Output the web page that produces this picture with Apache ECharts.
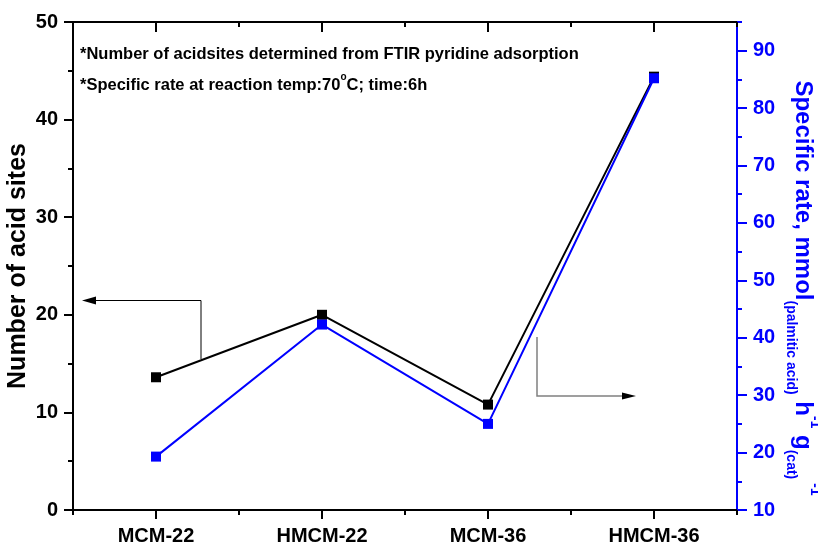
<!DOCTYPE html>
<html>
<head>
<meta charset="utf-8">
<script src="https://cdn.jsdelivr.net/npm/echarts@6/dist/echarts.min.js"></script>
<style>
  html, body { margin: 0; padding: 0; background: #fff; }
  #chart { width: 818px; height: 546px; }
</style>
</head>
<body>
<div id="chart"></div>
<script>
// Catalyst samples on the x axis
const categories = ['MCM-22', 'HMCM-22', 'MCM-36', 'HMCM-36'];
// Number of acid sites (left axis)
const acidSites = [13.6, 20.0, 10.8, 44.4];
// Specific rate, mmol(palmitic acid) h^-1 g(cat)^-1 (right axis)
const specificRate = [19.3, 42.3, 25.0, 85.2];
// Axis tick values
const leftTicks = [0, 10, 20, 30, 40, 50];
const rightMajorTicks = [10, 20, 30, 40, 50, 60, 70, 80, 90];
const rightMinorTicks = [15, 25, 35, 45, 55, 65, 75, 85, 95];

const FONT = "'Liberation Sans', Arial, Helvetica, sans-serif";
const BLUE = '#0000ff';

const chart = echarts.init(document.getElementById('chart'), null, { renderer: 'canvas' });

const grid = { left: 73, right: 81, top: 22, bottom: 36, containLabel: false, outerBoundsMode: 'none' };

function catAxis(pos, opts) {
  return Object.assign({
    type: 'category',
    data: categories,
    position: pos,
    boundaryGap: true,
    axisLine: { show: false },
    axisLabel: { show: false },
    splitLine: { show: false },
    axisTick: { show: false }
  }, opts);
}

const option = {
  backgroundColor: '#ffffff',
  animation: false,
  grid: grid,
  xAxis: [
    catAxis('bottom', {
      axisLine: { show: true, lineStyle: { color: '#000', width: 2 } },
      axisTick: { show: true, alignWithLabel: false, length: 5, lineStyle: { color: '#000', width: 2 } },
      axisLabel: { show: true, margin: 16, color: '#000', fontWeight: 'bold', fontSize: 20, fontFamily: FONT }
    }),
    catAxis('bottom', {
      axisTick: { show: true, alignWithLabel: true, length: 9, lineStyle: { color: '#000', width: 2 } }
    }),
    catAxis('top', {
      axisLine: { show: true, lineStyle: { color: '#000', width: 2 } },
      axisTick: { show: true, inside: true, alignWithLabel: false, length: 5, lineStyle: { color: '#000', width: 2 } }
    }),
    catAxis('top', {
      axisTick: { show: true, inside: true, alignWithLabel: true, length: 10, lineStyle: { color: '#000', width: 2 } }
    })
  ],
  yAxis: [
    {
      type: 'value',
      position: 'left',
      min: 0, max: 50, interval: 10,
      name: 'Number of acid sites',
      nameLocation: 'middle',
      nameGap: 42,
      nameMoveOverlap: false,
      nameTextStyle: { color: '#000', fontWeight: 'bold', fontSize: 25, fontFamily: FONT },
      axisLine: { show: true, lineStyle: { color: '#000', width: 2 } },
      axisTick: { show: true, length: 9, lineStyle: { color: '#000', width: 2 } },
      minorTick: { show: true, splitNumber: 2, length: 5, lineStyle: { color: '#000', width: 2 } },
      axisLabel: {
        margin: 15, color: '#000', fontWeight: 'bold', fontSize: 20, fontFamily: FONT,
        customValues: leftTicks
      },
      splitLine: { show: false },
      minorSplitLine: { show: false }
    },
    {
      type: 'value',
      position: 'right',
      min: 10, max: 95,
      axisLine: { show: true, lineStyle: { color: BLUE, width: 2 } },
      axisTick: { show: true, length: 10, lineStyle: { color: BLUE, width: 2 }, customValues: rightMajorTicks },
      axisLabel: {
        margin: 16, color: BLUE, fontWeight: 'bold', fontSize: 20, fontFamily: FONT,
        customValues: rightMajorTicks
      },
      splitLine: { show: false }
    },
    {
      type: 'value',
      position: 'right',
      min: 10, max: 95,
      axisLine: { show: false },
      axisTick: { show: true, length: 5, lineStyle: { color: BLUE, width: 2 }, customValues: rightMinorTicks },
      axisLabel: { show: false },
      splitLine: { show: false }
    }
  ],
  series: [
    {
      name: 'Number of acid sites',
      type: 'line',
      xAxisIndex: 0,
      yAxisIndex: 0,
      data: acidSites,
      symbol: 'rect',
      symbolSize: 10,
      itemStyle: { color: '#000' },
      lineStyle: { color: '#000', width: 2 },
      z: 3
    },
    {
      name: 'Specific rate',
      type: 'line',
      xAxisIndex: 0,
      yAxisIndex: 1,
      data: specificRate,
      symbol: 'rect',
      symbolSize: 10,
      itemStyle: { color: BLUE },
      lineStyle: { color: BLUE, width: 2 },
      z: 4
    }
  ],
  graphic: [
    // notes inside the plot
    {
      type: 'text', left: 80, top: 46, silent: true,
      style: { text: '*Number of acidsites determined from FTIR pyridine adsorption', fill: '#000', font: 'bold 16.5px ' + FONT }
    },
    {
      type: 'text', left: 80, top: 72, silent: true,
      style: {
        text: '{n|*Specific rate at reaction temp:70}{d|o}{n|C; time:6h}',
        rich: {
          n: { fill: '#000', font: 'bold 16.5px ' + FONT, lineHeight: 22, verticalAlign: 'bottom' },
          d: { fill: '#000', font: 'bold 10px ' + FONT, lineHeight: 22, verticalAlign: 'top' }
        }
      }
    },
    // right axis title with sub/superscripts
    {
      type: 'text', x: 803, y: 288, rotation: -Math.PI / 2, silent: true,
      style: {
        text: '{m|Specific rate, mmol}{s|(palmitic acid)}{m| h}{p|-1}{m| g}{s|(cat)}{p| -1}',
        align: 'center', verticalAlign: 'middle',
        rich: {
          m: { fill: BLUE, font: 'bold 24px ' + FONT, lineHeight: 38, verticalAlign: 'middle' },
          s: { fill: BLUE, font: 'bold 14px ' + FONT, lineHeight: 38, verticalAlign: 'bottom' },
          p: { fill: BLUE, font: 'bold 14px ' + FONT, lineHeight: 38, verticalAlign: 'top' }
        }
      }
    },
    // arrow pointing to left axis
    {
      type: 'polyline', silent: true,
      shape: { points: [[201, 359], [201, 300.5], [92, 300.5]] },
      style: { stroke: '#000', lineWidth: 1, fill: null }
    },
    {
      type: 'polygon', silent: true,
      shape: { points: [[82, 300.5], [96, 296.5], [96, 304.5]] },
      style: { fill: '#000' }
    },
    // arrow pointing to right axis
    {
      type: 'polyline', silent: true,
      shape: { points: [[537, 337], [537, 396], [626, 396]] },
      style: { stroke: '#808080', lineWidth: 1.5, fill: null }
    },
    {
      type: 'polygon', silent: true,
      shape: { points: [[636, 396], [622, 392.5], [622, 399.5]] },
      style: { fill: '#000' }
    }
  ]
};

chart.setOption(option);
</script>
</body>
</html>
